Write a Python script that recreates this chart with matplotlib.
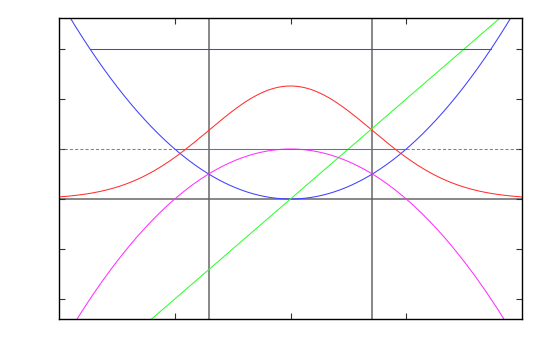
import numpy as np
import matplotlib
matplotlib.use('Agg')
import matplotlib.pyplot as plt

# sample points for the curves
x = np.linspace(-2, 2, 401)
x_lines = [-np.sqrt(0.5), np.sqrt(0.5)]   # vertical guide lines
y_top_line = 3.0
y_mid_line = 1.0
red_peak = 2.26

fig = plt.figure(figsize=(5.5, 3.5), dpi=100)
ax = fig.add_axes([59 / 550, 1 - 319 / 350, 463 / 550, 301 / 350])

lw = 0.75
# guide lines
for xv in x_lines:
    ax.axvline(xv, color='#606060', lw=1.4, alpha=0.75, zorder=1)
ax.axhline(0, color='#606060', lw=1.4, alpha=0.75, zorder=1)

# curves
ax.plot(x, x ** 2, color='#4040ff', lw=lw)
ax.plot(x, red_peak * np.exp(-x ** 2), color='#ff3030', lw=lw)
ax.plot(x, 2 * x, color='#30ff30', lw=lw)
ax.plot(x, 1 - x ** 2, color='#ff30ff', lw=lw)

# horizontal lines
s3 = np.sqrt(y_top_line)
ax.plot([-s3, s3], [y_top_line, y_top_line], color='#4040ff', lw=lw)
ax.plot([-1, 1], [y_mid_line, y_mid_line], color='#6060ff', lw=lw)
ax.plot([-2, -1], [y_mid_line, y_mid_line], color='#5050ff', lw=lw, ls=(0, (3, 2)), alpha=0.8)
ax.plot([1, 2], [y_mid_line, y_mid_line], color='#5050ff', lw=lw, ls=(0, (3, 2)), alpha=0.8)

ax.set_xlim(-2, 2)
ax.set_ylim(-2.4, 3.62)
ax.set_xticks([-1, 0, 1])
ax.set_yticks([-2, -1, 0, 1, 2, 3])
ax.tick_params(direction='in', length=4, width=0.8, top=True, right=True,
               labelbottom=False, labelleft=False, color='#333333')
for sp in ax.spines.values():
    sp.set_linewidth(1.0)

fig.savefig('out.png', dpi=100, facecolor='white')
